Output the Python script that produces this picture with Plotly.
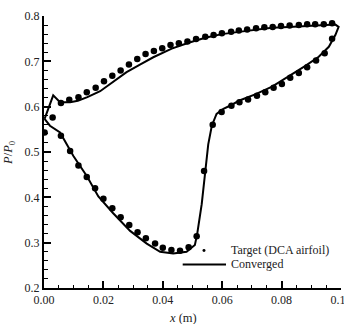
import plotly.graph_objects as go

# Target (DCA airfoil) pressure distribution, upper branch (LE -> TE)
target_x_upper = [0.0057, 0.0085, 0.0116, 0.0144, 0.0174, 0.0202, 0.0230, 0.0258, 0.0286,
                  0.0314, 0.0342, 0.0370, 0.0398, 0.0426, 0.0454, 0.0483, 0.0512, 0.0543,
                  0.0571, 0.0599, 0.0630, 0.0656, 0.0684, 0.0714, 0.0742, 0.0770, 0.0798,
                  0.0827, 0.0858, 0.0886, 0.0913, 0.0942, 0.0970]
target_y_upper = [0.608, 0.615, 0.621, 0.632, 0.642, 0.656, 0.668, 0.680, 0.693,
                  0.705, 0.716, 0.723, 0.729, 0.736, 0.740, 0.744, 0.749, 0.754,
                  0.758, 0.762, 0.765, 0.768, 0.770, 0.773, 0.775, 0.776, 0.778,
                  0.779, 0.780, 0.782, 0.782, 0.782, 0.784]

# Target, lower branch (LE -> TE)
target_x_lower = [0.0002, 0.0029, 0.0057, 0.0088, 0.0116, 0.0144, 0.0172, 0.0200, 0.0230,
                  0.0258, 0.0287, 0.0315, 0.0343, 0.0374, 0.0400, 0.0429, 0.0458, 0.0487,
                  0.0514, 0.0539, 0.0568, 0.0598, 0.0631, 0.0658, 0.0687, 0.0717, 0.0745,
                  0.0773, 0.0801, 0.0829, 0.0858, 0.0886, 0.0916, 0.0945, 0.0970]
target_y_lower = [0.543, 0.576, 0.536, 0.502, 0.470, 0.445, 0.420, 0.397, 0.376,
                  0.356, 0.339, 0.323, 0.310, 0.298, 0.289, 0.284, 0.282, 0.290,
                  0.314, 0.458, 0.560, 0.588, 0.602, 0.610, 0.616, 0.624, 0.632,
                  0.642, 0.650, 0.664, 0.674, 0.687, 0.702, 0.718, 0.750]

# Converged solution: upper branch LE -> TE
conv_x_upper = [0.0002, 0.0031, 0.0054, 0.0088, 0.0114, 0.0146, 0.0189, 0.0233, 0.0278,
                0.0323, 0.0368, 0.0430, 0.0487, 0.0543, 0.0599, 0.0656, 0.0711, 0.0768,
                0.0824, 0.0880, 0.0936, 0.0981, 0.0992]
conv_y_upper = [0.573, 0.625, 0.610, 0.610, 0.613, 0.621, 0.634, 0.654, 0.676,
                0.693, 0.709, 0.728, 0.741, 0.752, 0.760, 0.765, 0.770, 0.774,
                0.776, 0.778, 0.779, 0.781, 0.776]

# Converged solution: lower branch TE -> LE
conv_x_lower = [0.0992, 0.0981, 0.0959, 0.0925, 0.0880, 0.0824, 0.0768, 0.0711, 0.0656,
                0.0626, 0.0604, 0.0581, 0.0565, 0.0553, 0.0542, 0.0531, 0.0516, 0.0508,
                0.0480, 0.0435, 0.0391, 0.0346, 0.0290, 0.0233, 0.0183, 0.0144, 0.0099,
                0.0054, 0.0020, 0.0002]
conv_y_lower = [0.776, 0.758, 0.732, 0.710, 0.690, 0.667, 0.644, 0.627, 0.613,
                0.602, 0.595, 0.584, 0.558, 0.517, 0.455, 0.385, 0.320, 0.295,
                0.280, 0.276, 0.280, 0.298, 0.326, 0.365, 0.402, 0.447, 0.491,
                0.543, 0.558, 0.573]

x_ticks = [0.00, 0.02, 0.04, 0.06, 0.08, 0.10]
y_ticks = [0.2, 0.3, 0.4, 0.5, 0.6, 0.7, 0.8]

FONT = "Liberation Serif, DejaVu Serif, serif"

fig = go.Figure()
fig.add_trace(go.Scatter(
    x=conv_x_upper + conv_x_lower[1:], y=conv_y_upper + conv_y_lower[1:],
    mode="lines", line=dict(color="black", width=2), name="Converged",
    showlegend=False))
fig.add_trace(go.Scatter(
    x=target_x_upper + target_x_lower, y=target_y_upper + target_y_lower,
    mode="markers", marker=dict(color="black", size=6.5), name="Target (DCA airfoil)",
    showlegend=False))

axis_common = dict(
    showgrid=False, zeroline=False, showline=True, linecolor="black", linewidth=2,
    ticks="inside", ticklen=7, tickwidth=1.5, tickcolor="black",
    tickfont=dict(family=FONT, size=12, color="#222"),
    ticklabeloverflow="allow", automargin=False,
)
fig.update_xaxes(range=[0, 0.1], tickvals=x_ticks, tickformat=".2f",
                 minor=dict(ticks="inside", ticklen=3.5, dtick=0.005, tick0=0,
                            tickwidth=1, tickcolor="black"),
                 **axis_common)
fig.update_yaxes(range=[0.2, 0.8], tickvals=y_ticks, tickformat=".1f",
                 minor=dict(ticks="inside", ticklen=3.5, dtick=0.02, tick0=0.2,
                            tickwidth=1, tickcolor="black"),
                 **axis_common)

# Legend drawn manually (paper coordinates)
fig.add_shape(type="circle", xref="paper", yref="paper",
              x0=0.5387 - 0.005, x1=0.5387 + 0.005, y0=0.1379 - 0.0055, y1=0.1379 + 0.0055,
              fillcolor="black", line=dict(width=0))
fig.add_shape(type="line", xref="paper", yref="paper",
              x0=0.467, x1=0.6128, y0=0.0864, y1=0.0864,
              line=dict(color="black", width=2))
fig.add_annotation(text="Target (DCA airfoil)", xref="paper", yref="paper",
                   x=0.624, y=0.1397, xanchor="left", yanchor="middle", showarrow=False,
                   font=dict(family=FONT, size=12, color="#222"))
fig.add_annotation(text="Converged", xref="paper", yref="paper",
                   x=0.624, y=0.0864, xanchor="left", yanchor="middle", showarrow=False,
                   font=dict(family=FONT, size=12, color="#222"))

# Axis titles
fig.add_annotation(text="<i>x</i> (m)", xref="paper", yref="paper",
                   x=0.468, y=-0.110, xanchor="center", yanchor="middle", showarrow=False,
                   font=dict(family=FONT, size=12.5, color="#222"))
fig.add_annotation(text="<i>P</i>/<i>P</i><sub>0</sub>", xref="paper", yref="paper",
                   x=-0.118, y=0.5, xanchor="center", yanchor="middle", showarrow=False,
                   textangle=-90, font=dict(family=FONT, size=12.5, color="#222"))

fig.update_layout(
    width=344, height=324,
    margin=dict(l=44, r=3, t=16, b=36),
    plot_bgcolor="white", paper_bgcolor="white",
    showlegend=False,
)

fig.write_html("out.html")
